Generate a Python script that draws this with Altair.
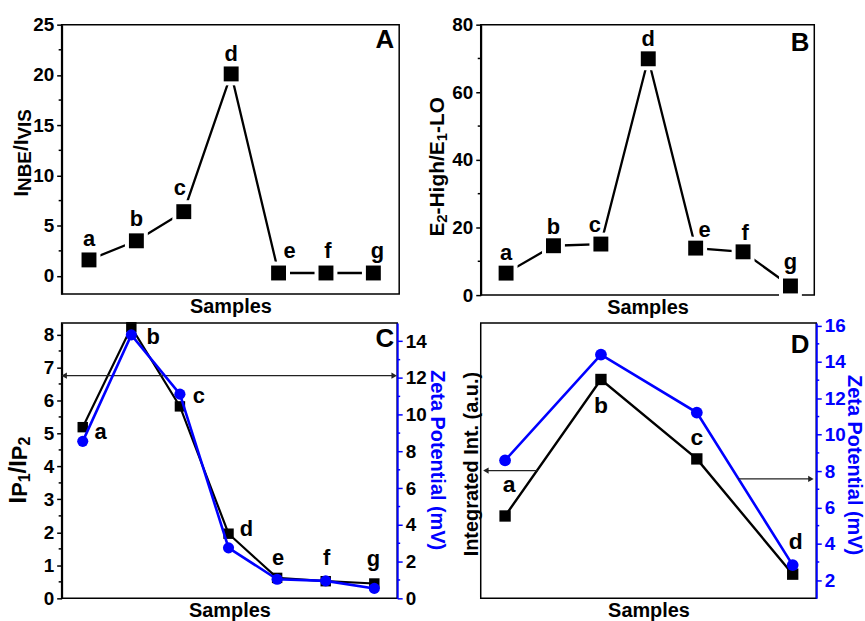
import altair as alt
import pandas as pd

FONT = "Liberation Sans"
BLUE = "#0000ff"

# ---------------- data ----------------
samples = ["a", "b", "c", "d", "e", "f", "g"]
nbe_vis = [1.6, 3.5, 6.4, 20.1, 0.3, 0.3, 0.3]
e2_e1 = [6.5, 14.6, 15.1, 69.9, 13.9, 12.8, 2.7]
ip1_ip2 = [5.19, 8.22, 5.82, 1.96, 0.62, 0.52, 0.45]
zeta_c = [8.55, 14.35, 11.12, 2.75, 1.04, 0.95, 0.54]
samples_d = ["a", "b", "c", "d"]
integrated = [5.53, 13.04, 8.67, 2.33]
zeta_d = [8.59, 14.41, 11.22, 2.83]

a_ticks = [0, 5, 10, 15, 20, 25]
a_minor = [2.5, 7.5, 12.5, 17.5, 22.5]
b_ticks = [0, 20, 40, 60, 80]
b_minor = [10, 30, 50, 70]
c_ticks = [0, 1, 2, 3, 4, 5, 6, 7, 8]
c_minor = [0.5, 1.5, 2.5, 3.5, 4.5, 5.5, 6.5, 7.5]
c_rticks = [0, 2, 4, 6, 8, 10, 12, 14]
c_rminor = [1, 3, 5, 7, 9, 11, 13]
d_rticks = [2, 4, 6, 8, 10, 12, 14, 16]
d_rminor = [3, 5, 7, 9, 11, 13, 15]

ONE = pd.DataFrame({"k": [0]})

# Arial/Liberation Sans Bold advance widths (per 1000 em)
W = {"I": 278, "N": 722, "B": 722, "E": 667, "/": 278, "V": 667, "S": 667,
     "P": 667, "1": 556, "2": 556, "-": 333, "H": 722, "i": 278, "g": 611,
     "h": 611, "L": 611, "O": 778}


def twidth(t, fs):
    return sum(W.get(ch, 556) for ch in t) * fs / 1000.0


def frame(vals, names, key="v"):
    return pd.DataFrame({"i": list(range(1, len(vals) + 1)), "s": names, key: vals})


def x_axis(tp):
    return alt.Axis(labels=False, ticks=False, domain=False, grid=False,
                    title="Samples", titleFont=FONT, titleFontSize=20,
                    titleFontWeight="bold", titleColor="black", titlePadding=tp)


def y_axis(values, orient="left", color="black", labelcolor="black"):
    return alt.Axis(orient=orient, values=values, tickSize=5, tickWidth=1.5,
                    tickColor=color, domain=True, domainColor=color, domainWidth=2,
                    labelFont=FONT, labelFontSize=19, labelFontWeight="bold",
                    labelColor=labelcolor, labelPadding=3, grid=False, title=None)


BLANK_AXIS = alt.Axis(labels=False, ticks=False, domain=False, grid=False, title=None)


class Ax:
    """Scale + axis bundle so that every layer shares identical definitions."""

    def __init__(self, ch, domain, axis):
        self.ch, self.domain, self.axis = ch, domain, axis

    def __call__(self, field):
        sc = alt.Scale(domain=self.domain, nice=False, zero=False)
        if self.ch == "x":
            return alt.X(field, scale=sc, axis=self.axis)
        return alt.Y(field, scale=sc, axis=self.axis)


def minor_rules(vals, Y, x0, x1, color="black"):
    return alt.Chart(pd.DataFrame({"m": vals})).mark_rule(
        color=color, strokeWidth=1.5).encode(
        y=Y("m:Q"), x=alt.value(x0), x2=alt.value(x1))


def labels(df, X, Y, offsets, size):
    out = []
    for s, (dx, dy) in offsets.items():
        out.append(alt.Chart(df).transform_filter(alt.datum.s == s).mark_text(
            dx=dx, dy=dy, font=FONT, fontSize=size, fontWeight="bold",
            color="black", align="center", baseline="middle").encode(
            x=X("i:Q"), y=Y("v:Q"), text="s:N"))
    return out


def rich_title(pieces, x, ycenter):
    total = sum(twidth(t, fs) for t, fs, sh in pieces)
    y = ycenter + total / 2.0
    out = []
    for t, fs, sh in pieces:
        out.append(alt.Chart(ONE).mark_text(
            text=t, angle=270, align="left", baseline="alphabetic", font=FONT,
            fontSize=fs, fontWeight="bold", color="black").encode(
            x=alt.value(x + sh), y=alt.value(y)))
        y -= twidth(t, fs)
    return out


def plain_text(t, x, y, angle=0, size=20, color="black", align="center",
               baseline="alphabetic"):
    kw = dict(text=t, align=align, baseline=baseline, font=FONT, fontSize=size,
              fontWeight="bold", color=color)
    if angle:
        kw["angle"] = angle
    return alt.Chart(ONE).mark_text(**kw).encode(x=alt.value(x), y=alt.value(y))


def letter(t, x, y):
    return plain_text(t, x, y, size=26, align="right", baseline="middle")


def arrow(x1, x2, y, X, Y, heads):
    df = pd.DataFrame({"x1": [x1], "x2": [x2], "v": [y]})
    rule = alt.Chart(df).mark_rule(color="#222222", strokeWidth=1.3).encode(
        x=X("x1:Q"), x2="x2:Q", y=Y("v:Q"))
    out = [rule]
    for xv, shape, dx in heads:
        hd = pd.DataFrame({"x1": [xv], "v": [y]})
        out.append(alt.Chart(hd).mark_point(shape=shape, filled=True, size=40,
                                            color="#222222", opacity=1, dx=dx).encode(
            x=X("x1:Q"), y=Y("v:Q")))
    return out


def line(df, X, Y, color, w):
    return alt.Chart(df).mark_line(color=color, strokeWidth=w).encode(
        x=X("i:Q"), y=Y("v:Q"))


def pts(df, X, Y, shape, color, size):
    return alt.Chart(df).mark_point(shape=shape, filled=True, color=color,
                                    size=size, opacity=1).encode(
        x=X("i:Q"), y=Y("v:Q"))


# ---------------- panel A ----------------
WA, HA = 339.5, 271
dfA = frame(nbe_vis, samples)
XA = Ax("x", [0.423, 7.545], x_axis(3))
YA = Ax("y", [-1.8, 25], y_axis(a_ticks))
panelA = alt.layer(
    line(dfA, XA, YA, "black", 2.3),
    pts(dfA, XA, YA, "square", "white", 530),
    pts(dfA, XA, YA, "square", "black", 225),
    minor_rules(a_minor, YA, -3, 0),
    *labels(dfA, XA, YA, {"a": (0, -21), "b": (0, -22), "c": (-4, -24),
                          "d": (0, -20), "e": (11, -22), "f": (2, -22),
                          "g": (4, -22)}, 22),
    *rich_title([("I", 21, 0), ("NBE", 19, 3.5), ("/I", 21, 0), ("VIS", 19, 3.5)],
                -34, 129),
    letter("A", WA - 5, 15),
    alt.Chart(ONE).mark_point(opacity=0, size=1).encode(x=alt.value(-60.5),
                                                        y=alt.value(-21.5)),
).properties(width=WA, height=HA)

# ---------------- panel B ----------------
WB, HB = 335.5, 272
dfB = frame(e2_e1, samples)
XB = Ax("x", [0.465, 7.503], x_axis(3))
YB = Ax("y", [0, 80], y_axis(b_ticks))
panelB = alt.layer(
    line(dfB, XB, YB, "black", 2.3),
    pts(dfB, XB, YB, "square", "white", 530),
    pts(dfB, XB, YB, "square", "black", 225),
    minor_rules(b_minor, YB, -3, 0),
    *labels(dfB, XB, YB, {"a": (0, -20), "b": (0, -19), "c": (-6, -19),
                          "d": (0, -20), "e": (9, -18), "f": (2, -19),
                          "g": (0, -24)}, 22),
    *rich_title([("E", 21, 0), ("2", 15, 3), ("-High/E", 21, 0), ("1", 15, 3),
                 ("-LO", 21, 0)], -36.5, 143),
    letter("B", WB - 5, 18),
).properties(width=WB, height=HB)

# ---------------- panel C ----------------
WC, HC = 337.5, 277
dfC = frame(ip1_ip2, samples)
dfCz = frame(zeta_c, samples)
XC = Ax("x", [0.566, 7.471], x_axis(2))
YCL = Ax("y", [0, 8.35], y_axis(c_ticks))
YCR = Ax("y", [0, 15], y_axis(c_rticks, orient="right", color=BLUE,
                              labelcolor="black"))
leftC = alt.layer(
    line(dfC, XC, YCL, "black", 2.2),
    pts(dfC, XC, YCL, "square", "black", 110),
    minor_rules(c_minor, YCL, -3, 0),
    *arrow(0.617, 7.409, 6.75, XC, YCL,
           [(0.617, "triangle-left", 3), (7.409, "triangle-right", -3)]),
    *labels(dfC, XC, YCL, {"a": (18, 5), "b": (22, 10), "c": (19, -10),
                           "d": (18, -5), "e": (1, -20), "f": (1, -23),
                           "g": (-1, -25)}, 22),
)
rightC = alt.layer(
    line(dfCz, XC, YCR, BLUE, 2.6),
    pts(dfCz, XC, YCR, "circle", BLUE, 125),
    minor_rules(c_rminor, YCR, WC, WC + 3, color=BLUE),
)
panelC = alt.layer(
    leftC, rightC,
    *rich_title([("I", 24, 0), ("P", 22, 1), ("1", 16, 4), ("/I", 24, 0),
                 ("P", 22, 1), ("2", 16, 4)], -35.5, 148),
    plain_text("Zeta Potential (mV)", WC + 34, 138, angle=90, color=BLUE),
    letter("C", WC - 3, 16),
).resolve_scale(y="independent").properties(width=WC, height=HC)

# ---------------- panel D ----------------
WD, HD = 337.5, 277
dfD = frame(integrated, samples_d)
dfDz = frame(zeta_d, samples_d)
XD = Ax("x", [0.746, 4.246], x_axis(2))
YDL = Ax("y", [1, 16.15], BLANK_AXIS)
YDR = Ax("y", [1, 16.15], y_axis(d_rticks, orient="right", color=BLUE,
                                 labelcolor=BLUE))
leftD = alt.layer(
    line(dfD, XD, YDL, "black", 2.4),
    pts(dfD, XD, YDL, "square", "black", 130),
    *labels(dfD, XD, YDL, {"a": (4, -31), "b": (0, 27), "c": (0, -21),
                           "d": (3, -32)}, 23),
)
rightD = alt.layer(
    line(dfDz, XD, YDR, BLUE, 2.6),
    pts(dfDz, XD, YDR, "circle", BLUE, 140),
    minor_rules(d_rminor, YDR, WD, WD + 3, color=BLUE),
    *arrow(1.34, 0.80, 8.03, XD, YDR, [(0.80, "triangle-left", 3)]),
    *arrow(3.43, 4.19, 7.57, XD, YDR, [(4.19, "triangle-right", -3)]),
)
panelD = alt.layer(
    leftD, rightD,
    plain_text("Integrated Int. (a.u.)", -2.5, 142, angle=270, color="black"),
    plain_text("Zeta Potential (mV)", WD + 32, 143, angle=90, color=BLUE),
    letter("D", WD - 7, 22),
).resolve_scale(y="independent").properties(width=WD, height=HD)

chart = alt.concat(
    panelA, panelB, panelC, panelD, columns=2, bounds="flush", align="none",
    spacing=alt.RowColnumber(row=28, column=81.5),
).properties(padding=0, background="white").configure_view(
    stroke="black", strokeWidth=1.5)

chart.save("out.html", embed_options={"renderer": "svg", "actions": False})
